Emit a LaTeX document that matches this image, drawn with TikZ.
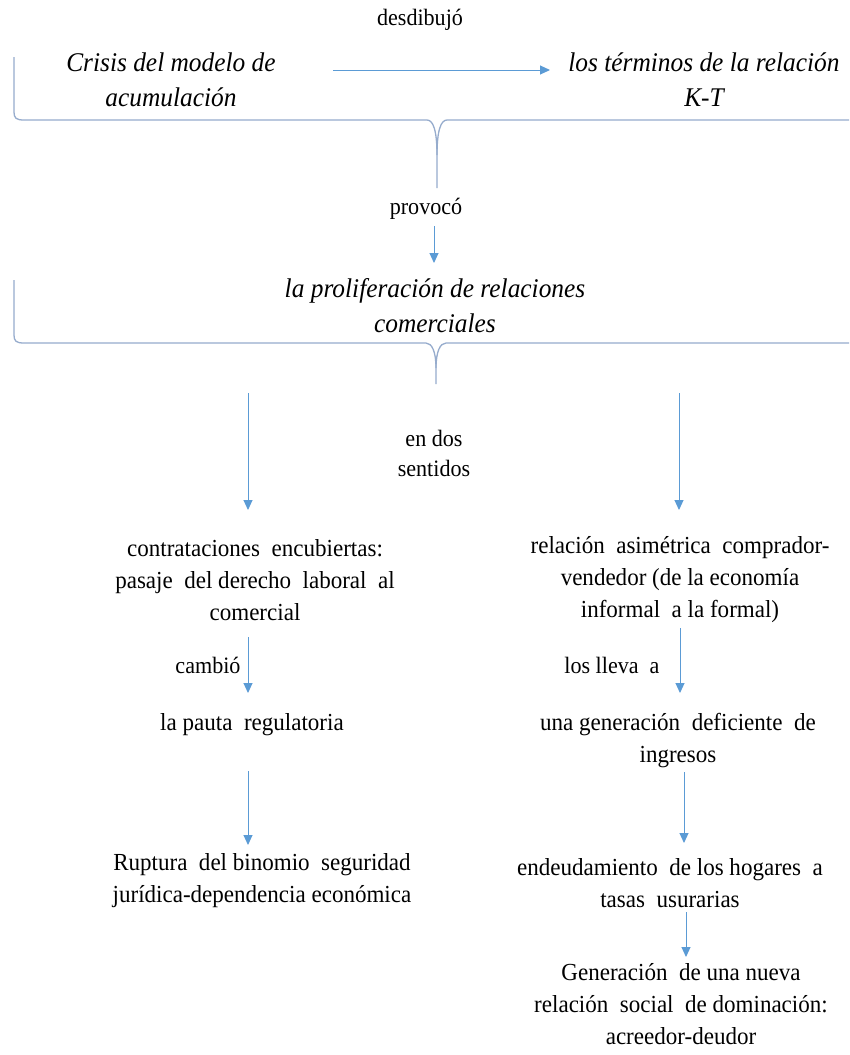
\documentclass[tikz,border=0pt]{standalone}
\usepackage{fontspec}
\setmainfont{Liberation Serif}
\newfontfamily\tallserif[FakeStretch=0.94]{Liberation Serif}
\usetikzlibrary{arrows.meta}
\definecolor{arrowblue}{RGB}{91,155,213}
\definecolor{braceblue}{RGB}{150,172,205}
\tikzset{
  maintxt/.style={font=\tallserif\fontsize{24.5}{32}\selectfont, align=center, inner sep=0pt, text=black},
  labtxt/.style={font=\tallserif\fontsize{23.5}{30}\selectfont, align=center, inner sep=0pt, text=black},
  itxt/.style={font=\tallserif\fontsize{27}{35}\selectfont\itshape, align=center, inner sep=0pt, text=black},
  conn/.style={draw=arrowblue, line width=1pt, -{Triangle[width=9pt,length=10pt]}},
  bracepath/.style={draw=braceblue, line width=1.3pt, line join=round}
}
\begin{document}
\begin{tikzpicture}[x=1pt,y=-1pt]
\useasboundingbox (0,0) rectangle (849,1055);
\fill[white] (0,0) rectangle (849,1055);

% top row
\node[labtxt] (desd) at (420,20) {desdibujó};
\node[itxt] (crisis) at (171,80) {Crisis del modelo de\\acumulación};
\node[itxt] (terms) at (704,80) {los términos de la relación\\K-T};
\coordinate (c1s) at (333,70);
\coordinate (c1e) at (550,70);
\draw[conn] (c1s) -- (c1e);

% brace 1
\draw[bracepath] (14,57) -- (14,112) .. controls (14,118) and (16,120) .. (24,120) -- (427,120)
  .. controls (433,120) and (437,130) .. (437,155) -- (437,188);
\draw[bracepath] (849,120) -- (447,120) .. controls (441,120) and (437,130) .. (437,155);

\node[labtxt] (prov) at (426,209) {provocó};
\coordinate (p1) at (434,226);
\coordinate (p2) at (434,263);
\draw[conn] (p1) -- (p2);

\node[itxt] (prolif) at (435,306) {la proliferación de relaciones\\comerciales};

% brace 2
\draw[bracepath] (14,280) -- (14,335) .. controls (14,341) and (16,343) .. (24,343) -- (426,343)
  .. controls (432,343) and (436,352) .. (436,368) -- (436,384);
\draw[bracepath] (849,343) -- (446,343) .. controls (440,343) and (436,352) .. (436,368);

\node[labtxt] (endos) at (434,453) {en dos\\sentidos};

\coordinate (l1) at (248,393);
\coordinate (l2) at (248,510);
\coordinate (r1) at (679,393);
\coordinate (r2) at (679,510);
\draw[conn] (l1) -- (l2);
\draw[conn] (r1) -- (r2);

% left column
\node[maintxt] (contr) at (255,580) {contrataciones\ \ encubiertas:\\pasaje\ \ del derecho\ \ laboral\ \ al\\comercial};
\node[labtxt] (camb) at (208,665) {cambió};
\node[maintxt] (pauta) at (252,725) {la pauta\ \ regulatoria};
\node[maintxt] (rupt) at (262,881) {Ruptura\ \ del binomio\ \ seguridad\\jurídica-dependencia económica};
\coordinate (lc1) at (248,637);
\coordinate (lc2) at (248,693);
\coordinate (lp1) at (248,771);
\coordinate (lp2) at (248,845);
\draw[conn] (lc1) -- (lc2);
\draw[conn] (lp1) -- (lp2);

% right column
\node[maintxt] (rel) at (680,580) {relación\ \ asimétrica\ \ comprador-\\vendedor (de la economía\\informal\ \ a la formal)};
\node[labtxt] (lleva) at (612,665) {los lleva\ \ a};
\node[maintxt] (ingr) at (678,741) {una generación\ \ deficiente\ \ de\\ingresos};
\node[maintxt] (endeu) at (670,883) {endeudamiento\ \ de los hogares\ \ a\\tasas\ \ usurarias};
\node[maintxt] (gener) at (681,1004) {Generación\ \ de una nueva\\relación\ \ social\ \ de dominación:\\acreedor-deudor};
\coordinate (rc1) at (680,628);
\coordinate (rc2) at (680,693);
\coordinate (ri1) at (684,772);
\coordinate (ri2) at (684,843);
\coordinate (rt1) at (686,912);
\coordinate (rt2) at (686,957);
\draw[conn] (rc1) -- (rc2);
\draw[conn] (ri1) -- (ri2);
\draw[conn] (rt1) -- (rt2);
\end{tikzpicture}
\end{document}
